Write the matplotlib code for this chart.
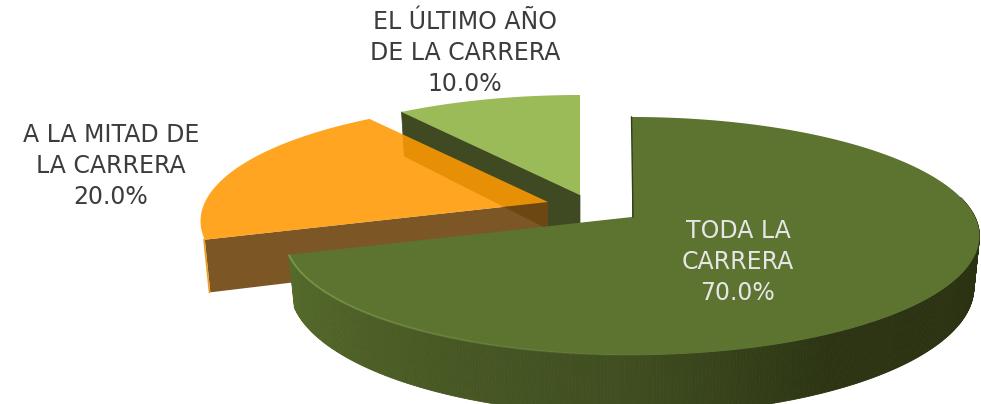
#!/usr/bin/env python3

import numpy as np
import matplotlib
matplotlib.use("Agg")
import matplotlib.pyplot as plt
from matplotlib.patches import Polygon

# Data
categories = ["TODA LA\nCARRERA", "A LA MITAD DE\nLA CARRERA", "EL ÚLTIMO AÑO\nDE LA CARRERA"]
values = [70.0, 20.0, 10.0]

# Layout of the fake 3D pie, in pixels
radius_x = 343
radius_y = 116
persp = 0.16
depth = 50
bottom_shrink = 0.984
centers = [(632, 217), (548, 202), (580, 195)]
label_pos = [(738, 262), (111, 166), (465, 53)]
label_colors = ["#e6e6e6", "#3c3c3c", "#3c3c3c"]

GREEN = "#5d7330"
ORANGE = "#ff9902"
LIGHT = "#9bbb59"
DARK_WALL = "#3f4a22"
BROWN = "#714711"


def rim(center, theta, low=False):
    # theta is clockwise from the top, in degrees
    t = np.radians(theta)
    w = 1 / (1 + persp * np.cos(t))
    x = radius_x * np.sin(t) * w
    y = -radius_y * np.cos(t) * w
    if low:
        return center[0] + x * bottom_shrink, center[1] + y + depth * w
    return center[0] + x, center[1] + y


def top_face(center, a, b):
    th = np.linspace(a, b, 200)
    x, y = rim(center, th)
    return np.column_stack([np.r_[center[0], x], np.r_[center[1], y]])


def side_wall(center, theta):
    # flat wall between the centre and the rim at angle theta
    x0, y0 = rim(center, theta)
    x1, y1 = rim(center, theta, low=True)
    return [center, (x0, y0), (x1, y1), (center[0], center[1] + depth)]


fig = plt.figure(figsize=(9.81, 4.04), dpi=100)
ax = fig.add_axes([0, 0, 1, 1])
ax.set_xlim(0, 981)
ax.set_ylim(404, 0)
ax.axis("off")

# slice angles from the values
ends = np.cumsum(values) / sum(values) * 360
starts = np.r_[0, ends[:-1]]

# last slice first, it sits behind the others
a, b = starts[2], ends[2]
ax.add_patch(Polygon(side_wall(centers[2], a), fc=DARK_WALL, ec=DARK_WALL, lw=0.5))
ax.add_patch(Polygon(top_face(centers[2], a, b), fc=LIGHT, ec="none"))

# orange slice, a bit see-through
a, b = starts[1], ends[1]
ax.add_patch(Polygon(side_wall(centers[1], a), fc=BROWN, ec="none", alpha=0.92))
ax.add_patch(Polygon(top_face(centers[1], a, b), fc=ORANGE, ec="none", alpha=0.88))

# thin gold sliver of the outer wall on the left of the brown side
x0, y0 = rim(centers[1], a)
x1, y1 = rim(centers[1], a, low=True)
ax.plot([x0 - 0.8, x1 - 0.8], [y0, y1], color="#e8a020", lw=1.2)

# green slice, outer wall in small strips so it can be shaded
# the back part of the wall is hidden, so start the strips past it
a, b = starts[0], ends[0]
th = np.linspace(80, b, 345)
shade_t = [80, 100, 150, 180, 215, 252]
shade_r = [0x2a, 0x2a, 0x2c, 0x3f, 0x4a, 0x55]
shade_g = [0x32, 0x32, 0x34, 0x4d, 0x5b, 0x6b]
shade_b = [0x12, 0x12, 0x13, 0x20, 0x25, 0x2b]
for t0, t1 in zip(th[:-1], th[1:]):
    x0, y0 = rim(centers[0], np.array([t0, t1]))
    x1, y1 = rim(centers[0], np.array([t1, t0]), low=True)
    tm = (t0 + t1) / 2
    col = (np.interp(tm, shade_t, shade_r) / 255,
          np.interp(tm, shade_t, shade_g) / 255,
          np.interp(tm, shade_t, shade_b) / 255)
    ax.add_patch(Polygon(np.column_stack([np.r_[x0, x1], np.r_[y0, y1]]), fc=col, ec=col, lw=0.6))

ax.add_patch(Polygon(top_face(centers[0], a, b), fc=GREEN, ec="none"))

# light bevel along the front left of the rim
th = np.linspace(b, 175, 60)
x0, y0 = rim(centers[0], th)
for i in range(len(th) - 1):
    ax.plot(x0[i:i + 2], y0[i:i + 2], color="#7f9e4c", lw=1.4, alpha=0.9 * (1 - i / 60), solid_capstyle="butt")

# thin dark edge on the first side of the green slice
x0, y0 = rim(centers[0], a)
ax.plot([x0 - 0.5, centers[0][0] + 1], [y0, centers[0][1]], color="#333d1a", lw=1)

# labels
for name, val, pos, col in zip(categories, values, label_pos, label_colors):
    ax.text(pos[0], pos[1], f"{name}\n{val:.1f}%", ha="center", va="center", color=col,
            fontsize=17, family="DejaVu Sans", linespacing=1.36)

fig.savefig("out.png", dpi=100)
